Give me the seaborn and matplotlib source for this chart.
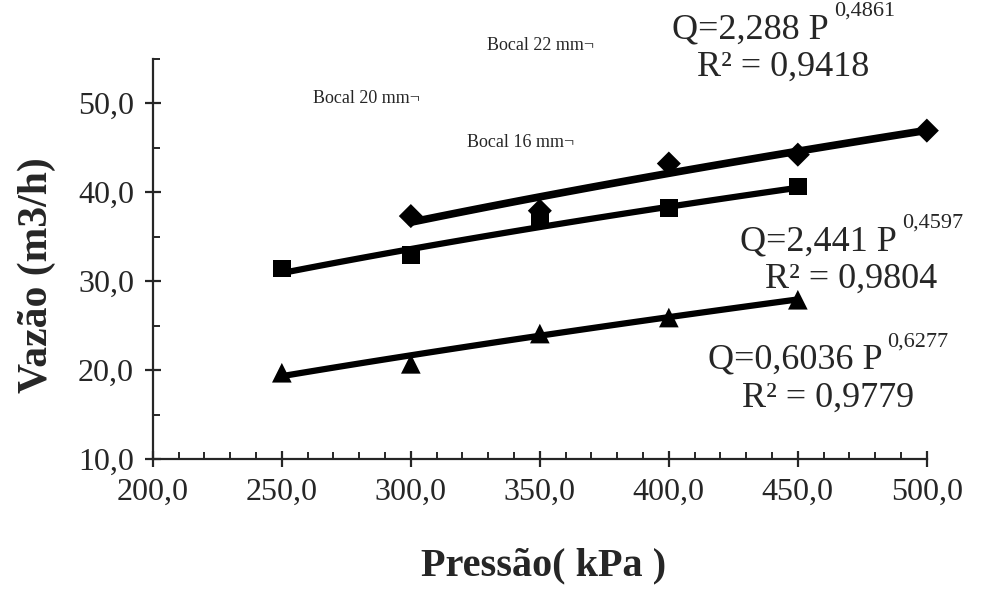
import numpy as np
import pandas as pd
import seaborn as sns
import matplotlib
matplotlib.use("Agg")
import matplotlib.pyplot as plt
from matplotlib.ticker import MultipleLocator, FuncFormatter

# Data: flow (m3/h) vs pressure (kPa) for three nozzles
p_22 = [300, 350, 400, 450, 500]
q_22 = [37.3, 37.9, 43.2, 44.2, 46.9]
p_20 = [250, 300, 350, 400, 450]
q_20 = [31.4, 32.9, 37.0, 38.2, 40.6]
p_16 = [250, 300, 350, 400, 450]
q_16 = [19.7, 20.7, 24.1, 25.9, 27.9]

# power trend lines Q = a * P^b, coefficients printed on the chart
fits = {"22": (2.288, 0.4861, 0.9418),
        "20": (2.441, 0.4597, 0.9804),
        "16": (0.6036, 0.6277, 0.9779)}

sns.set_style("ticks")
plt.rcParams['font.family'] = ['Liberation Serif', 'DejaVu Serif']

df = pd.concat([
    pd.DataFrame({"P": p_22, "Q": q_22, "Bocal": "22"}),
    pd.DataFrame({"P": p_20, "Q": q_20, "Bocal": "20"}),
    pd.DataFrame({"P": p_16, "Q": q_16, "Bocal": "16"}),
])

# trend curves over each series' own pressure range
trend = []
for bocal, g in df.groupby("Bocal"):
    a, b, _ = fits[bocal]
    pp = np.linspace(g["P"].min(), g["P"].max(), 60)
    trend.append(pd.DataFrame({"P": pp, "Q": a * pp ** b, "Bocal": bocal}))
trend = pd.concat(trend)

fig = plt.figure(figsize=(9.86, 5.97), dpi=100)
ax = fig.add_axes([0.155, 0.231, 0.785, 0.671])

sns.lineplot(data=trend, x="P", y="Q", hue="Bocal", size="Bocal",
             palette={"22": "black", "20": "black", "16": "black"},
             sizes={"22": 5.5, "20": 4.5, "16": 4.5},
             legend=False, ax=ax)
sns.scatterplot(data=df, x="P", y="Q", style="Bocal", size="Bocal",
                markers={"22": "D", "20": "s", "16": "^"},
                sizes={"22": 150, "20": 160, "16": 200},
                color="black", edgecolor="black", linewidth=0,
                legend=False, ax=ax, zorder=3, clip_on=False)

ax.set_xlim(200, 500)
ax.set_ylim(10, 55)
ax.xaxis.set_major_locator(MultipleLocator(50))
ax.xaxis.set_minor_locator(MultipleLocator(10))
ax.yaxis.set_minor_locator(MultipleLocator(5))
ax.set_yticks([10, 20, 30, 40, 50])
fmt = FuncFormatter(lambda v, pos: f"{v:.1f}".replace(".", ","))
ax.xaxis.set_major_formatter(fmt)
ax.yaxis.set_major_formatter(fmt)

sns.despine(ax=ax)
for s in ["left", "bottom"]:
    ax.spines[s].set_linewidth(1.6)
ax.tick_params(which="major", direction="inout", length=11, width=1.6,
               labelsize=23, pad=8)
ax.tick_params(which="minor", direction="in", length=5, width=1.4)

ax.set_xlabel("Pressão( kPa )", fontsize=29, fontweight="bold")
ax.set_ylabel("Vazão (m3/h)", fontsize=30, fontweight="bold")
ax.xaxis.label.set_va("center")
ax.yaxis.label.set_va("center")
ax.xaxis.set_label_coords(0.505, (459 - 566) / 400.5)
ax.yaxis.set_label_coords((37 - 153) / 774, (459 - 275) / 400.5)

# nozzle labels
for txt, x, y in [("Bocal 22 mm¬", 487, 45), ("Bocal 20 mm¬", 313, 99),
                  ("Bocal 16 mm¬", 467, 142)]:
    fig.text(x / 986, 1 - y / 597, txt, fontsize=13, va="center", ha="left")

# equations: left x of "Q", baseline of Q line (pixels from top)
fig.canvas.draw()
renderer = fig.canvas.get_renderer()
W, H = 986, 597
for bocal, (xl, yb) in {"22": (672, 38), "20": (740, 250),
                        "16": (708, 369)}.items():
    a, b, r2 = fits[bocal]
    a_s = f"{a:g}".replace(".", ",")
    b_s = f"{b:g}".replace(".", ",")
    r_s = f"{r2:.4f}".replace(".", ",")
    t = fig.text(xl / W, 1 - yb / H, f"Q={a_s} P", fontsize=26,
                 ha="left", va="baseline")
    x_end = t.get_window_extent(renderer).x1
    s = fig.text((x_end + 5) / W, 1 - (yb - 22) / H, b_s, fontsize=16,
                 ha="left", va="baseline")
    x_sup = s.get_window_extent(renderer).x1
    fig.text((xl + x_sup) / 2 / W, 1 - (yb + 38) / H, f"R² = {r_s}",
             fontsize=26, ha="center", va="baseline")

fig.savefig("out.png", dpi=100)
